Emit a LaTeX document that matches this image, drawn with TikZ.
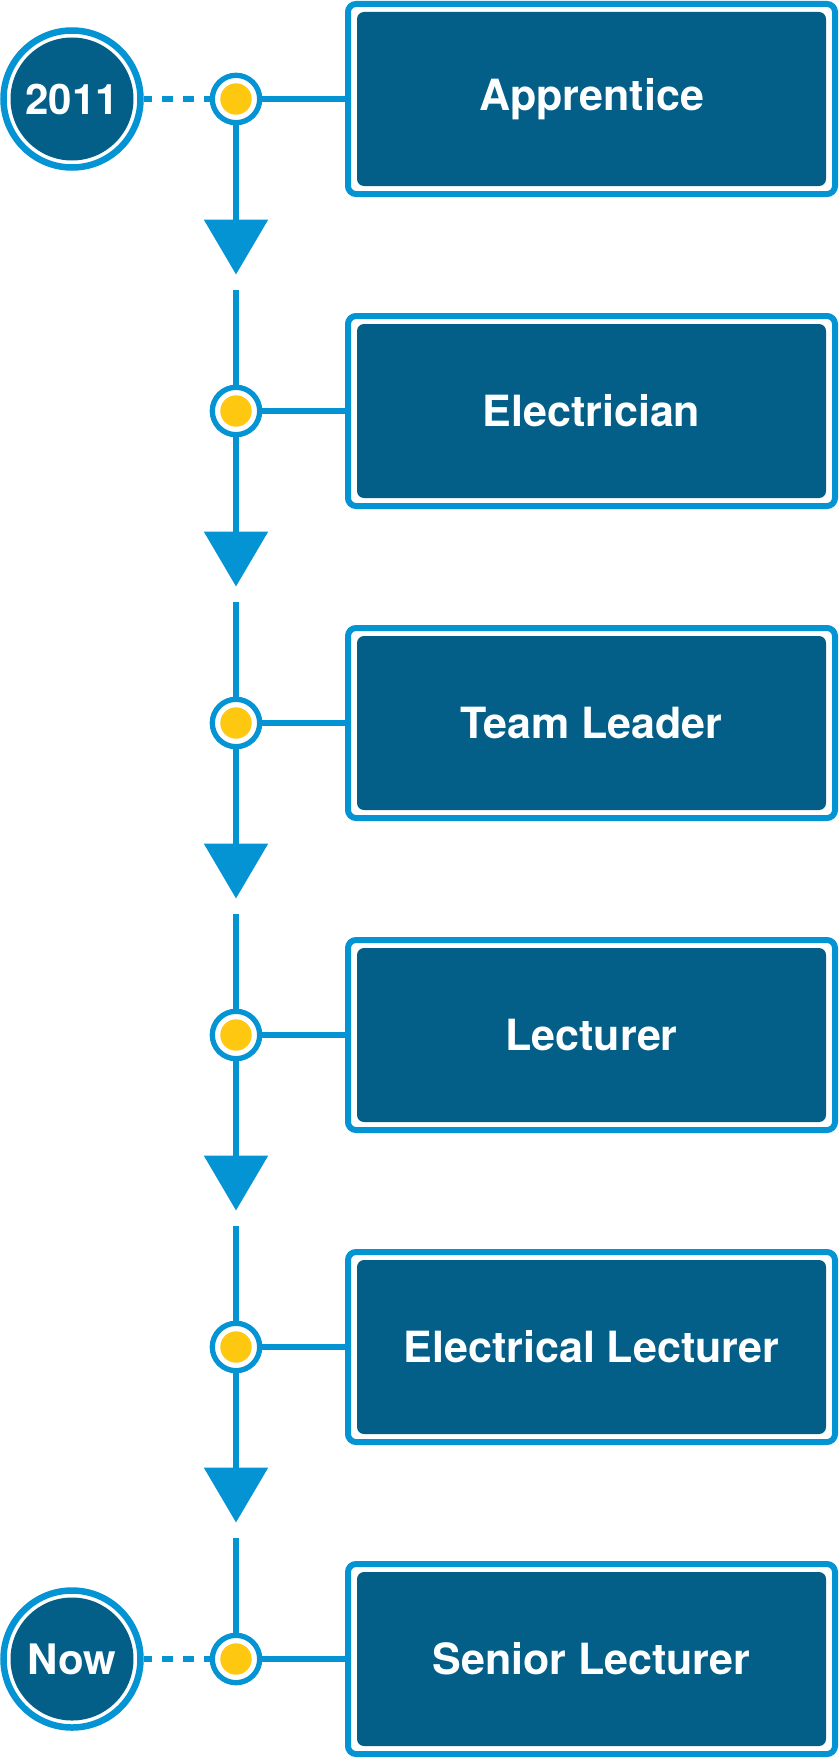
\documentclass[tikz,border=0pt]{standalone}
\usepackage{fontspec}
\setmainfont{TeX Gyre Heros}
\usepackage{tikz}
\usepackage{xcolor}
\usetikzlibrary{arrows.meta}

\definecolor{lineblue}{RGB}{4,147,211}
\definecolor{boxblue}{RGB}{3,95,136}
\definecolor{dotyellow}{RGB}{254,199,16}

\tikzset{
  job/.style={rectangle, draw=lineblue, line width=6pt, fill=white, rounded corners=8pt,
    minimum width=487pt, minimum height=190pt, inner sep=0pt, text=white,
    font=\fontsize{43}{50}\selectfont\bfseries,
    path picture={\fill[boxblue, rounded corners=7pt]
      ([shift={(9pt,-8pt)}]path picture bounding box.north west) rectangle
      ([shift={(-9pt,8pt)}]path picture bounding box.south east);}},
  year/.style={circle, draw=lineblue, line width=6.5pt, fill=white, minimum size=137pt,
    inner sep=0pt, text=white, font=\fontsize{42}{48}\selectfont\bfseries,
    path picture={\fill[boxblue] (path picture bounding box.center) circle (61.5pt);}},
  dot/.style={circle, draw=lineblue, line width=5.3pt, fill=white, minimum size=47.4pt,
    inner sep=0pt,
    path picture={\fill[dotyellow] (path picture bounding box.center) circle (15.7pt);}},
  link/.style={lineblue, line width=6pt},
  dashlink/.style={link, dash pattern=on 11pt off 10pt, dash phase=3pt},
  flow/.style={link, -{Triangle[length=55pt, width=63pt]}}
}

\begin{document}
\begin{tikzpicture}[x=1pt, y=-1pt]
    \useasboundingbox (0,0) rectangle (839,1761);

    % Jobs
    \node[job] (apprentice) at (591.5,99) {Apprentice};
    \node[job] (electrician) at (591.5,411) {Electrician};
    \node[job] (teamleader) at (591.5,723) {Team Leader};
    \node[job] (lecturer) at (591.5,1035) {Lecturer};
    \node[job] (ellecturer) at (591.5,1347) {Electrical Lecturer};
    \node[job] (senior) at (591.5,1659) {Senior Lecturer};

    % Dots
    \node[dot] (d1) at (236,99) {};
    \node[dot] (d2) at (236,411) {};
    \node[dot] (d3) at (236,723) {};
    \node[dot] (d4) at (236,1035) {};
    \node[dot] (d5) at (236,1347) {};
    \node[dot] (d6) at (236,1659) {};

    % Start and end
    \node[year] (start) at (72,99) {2011};
    \node[year] (now) at (72,1659) {Now};
    \draw[dashlink] (start) -- (d1);
    \draw[dashlink] (now) -- (d6);

    % Dots to jobs
    \draw[link] (d1) -- (apprentice);
    \draw[link] (d2) -- (electrician);
    \draw[link] (d3) -- (teamleader);
    \draw[link] (d4) -- (lecturer);
    \draw[link] (d5) -- (ellecturer);
    \draw[link] (d6) -- (senior);

    % Arrows down
    \coordinate (t1) at (236,274.5);  \coordinate (r1) at (236,289.5);
    \coordinate (t2) at (236,586.5);  \coordinate (r2) at (236,601.5);
    \coordinate (t3) at (236,898.5);  \coordinate (r3) at (236,913.5);
    \coordinate (t4) at (236,1210.5); \coordinate (r4) at (236,1225.5);
    \coordinate (t5) at (236,1522.5); \coordinate (r5) at (236,1537.5);
    \draw[flow] (d1) -- (t1);
    \draw[link] (r1) -- (d2);
    \draw[flow] (d2) -- (t2);
    \draw[link] (r2) -- (d3);
    \draw[flow] (d3) -- (t3);
    \draw[link] (r3) -- (d4);
    \draw[flow] (d4) -- (t4);
    \draw[link] (r4) -- (d5);
    \draw[flow] (d5) -- (t5);
    \draw[link] (r5) -- (d6);
\end{tikzpicture}
\end{document}
